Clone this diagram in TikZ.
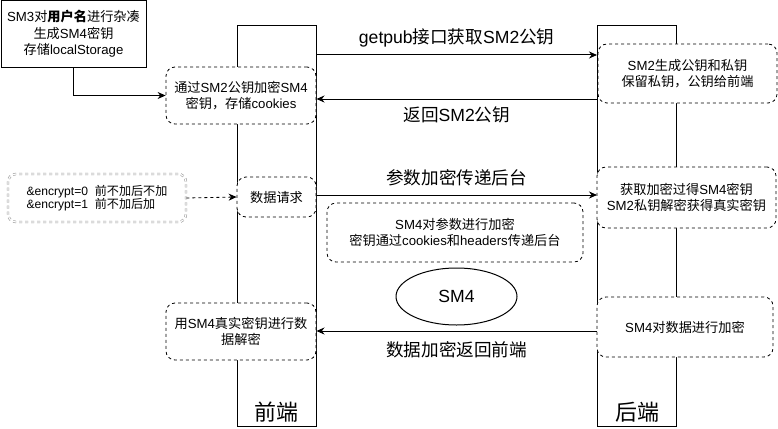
\documentclass[tikz,border=0pt]{standalone}
\usepackage{fontspec}
\setmainfont{Liberation Sans}
\newfontfamily\cjkfont{Noto Sans CJK SC}
\newfontfamily\latinfont{Liberation Sans}
\usetikzlibrary{arrows.meta,positioning,calc,shapes.geometric}

% 汉字自动换用 CJK 字体
\XeTeXinterchartokenstate=1
\newXeTeXintercharclass\cjkclass
\count255="4E00
\loop
  \XeTeXcharclass\count255=\cjkclass
  \ifnum\count255<"9FFF \advance\count255 by 1
\repeat
\XeTeXcharclass"FF0C=\cjkclass
\XeTeXinterchartoks 0 \cjkclass = {\cjkfont}
\XeTeXinterchartoks 4095 \cjkclass = {\cjkfont}
\XeTeXinterchartoks \cjkclass 0 = {\latinfont}
\XeTeXinterchartoks \cjkclass 4095 = {\latinfont}

\tikzset{
  lifeline/.style={draw,line width=1pt,minimum width=79pt,minimum height=400pt,inner sep=0pt},
  dbox/.style={draw,fill=white,line width=0.8pt,dash pattern=on 3pt off 3pt,rounded corners=9pt,
    align=center,inner sep=1pt,font=\fontsize{13.2}{16}\selectfont},
  msg/.style={font=\fontsize{17.6}{20}\selectfont},
}

\begin{document}
\begin{tikzpicture}[x=1pt,y=-1pt,>={Stealth[length=8pt,width=7pt]},line width=1pt]
  \useasboundingbox (0,0) rectangle (778,428);
  % 生命线：前端和后端
  \node[lifeline] (fe) at (276.5,226) {};
  \node[lifeline] (be) at (637,226) {};
  \node[font=\fontsize{22}{24}\selectfont,above=0pt of fe.south] (lblfe) {前端};
  \node[font=\fontsize{22}{24}\selectfont,above=0pt of be.south] (lblbe) {后端};
  % 前端的步骤
  \node[draw,fill=white,align=center,minimum width=145pt,minimum height=66pt,inner sep=1pt,
    font=\fontsize{13.2}{16.5}\selectfont] (hash) at (73.5,34)
    {SM3对\textbf{用户名}进行杂凑\\生成SM4密钥\\存储localStorage};
  \node[dbox,minimum width=150pt,minimum height=57pt] (enc) at (241,95.5)
    {通过SM2公钥加密SM4\\密钥，存储cookies};
  \node[draw=gray!80,double,double distance=1.2pt,line width=0.6pt,dashed,rounded corners=8pt,
    align=left,minimum width=178pt,minimum height=48pt,inner sep=1pt,
    font=\fontsize{12.1}{13}\selectfont] (flag) at (97,198)
    {\&encrypt=0\ \ 前不加后不加\\\&encrypt=1\ \ 前不加后加};
  \node[dbox,minimum width=79pt,minimum height=40pt] (req) at (276.5,197) {数据请求};
  \node[dbox,minimum width=150pt,minimum height=57pt] (dec) at (241,331.5)
    {用SM4真实密钥进行数\\据解密};
  % 后端的步骤
  \node[dbox,minimum width=179pt,minimum height=59pt] (keygen) at (687.5,73.5)
    {SM2生成公钥和私钥\\保留私钥，公钥给前端};
  \node[dbox,minimum width=179pt,minimum height=61pt] (getkey) at (686.5,197.5)
    {获取加密过得SM4密钥\\SM2私钥解密获得真实密钥};
  \node[dbox,minimum width=176pt,minimum height=60pt] (senc) at (685,327) {SM4对数据进行加密};
  % 中间的说明
  \node[dbox,minimum width=256pt,minimum height=59pt] (param) at (455,232.5)
    {SM4对参数进行加密\\密钥通过cookies和headers传递后台};
  \node[draw,ellipse,minimum width=121pt,minimum height=57pt,msg] (sm4) at (456.5,296.5) {SM4};
  % 消息
  \coordinate (m1) at (0,55);
  \coordinate (m2) at (0,99);
  \coordinate (m3) at (0,195);
  \coordinate (m4) at (0,331);
  \draw[->] (hash.south) |- (enc.west);
  \draw[->,line width=0.8pt,dash pattern=on 3pt off 3pt] (flag.east) -- (req.west);
  \draw[->] (fe.east |- m1) -- (be.west |- m1)
    node[msg,midway,yshift=17pt] (lget) {getpub接口获取SM2公钥};
  \draw[->] (be.west |- m2) -- (fe.east |- m2)
    node[msg,midway,yshift=-16pt] (lret) {返回SM2公钥};
  \draw[->] (fe.east |- m3) -- (be.west |- m3)
    node[msg,midway,yshift=17pt] (lsend) {参数加密传递后台};
  \draw[->] (be.west |- m4) -- (fe.east |- m4)
    node[msg,midway,yshift=-19pt] (lback) {数据加密返回前端};
\end{tikzpicture}
\end{document}
